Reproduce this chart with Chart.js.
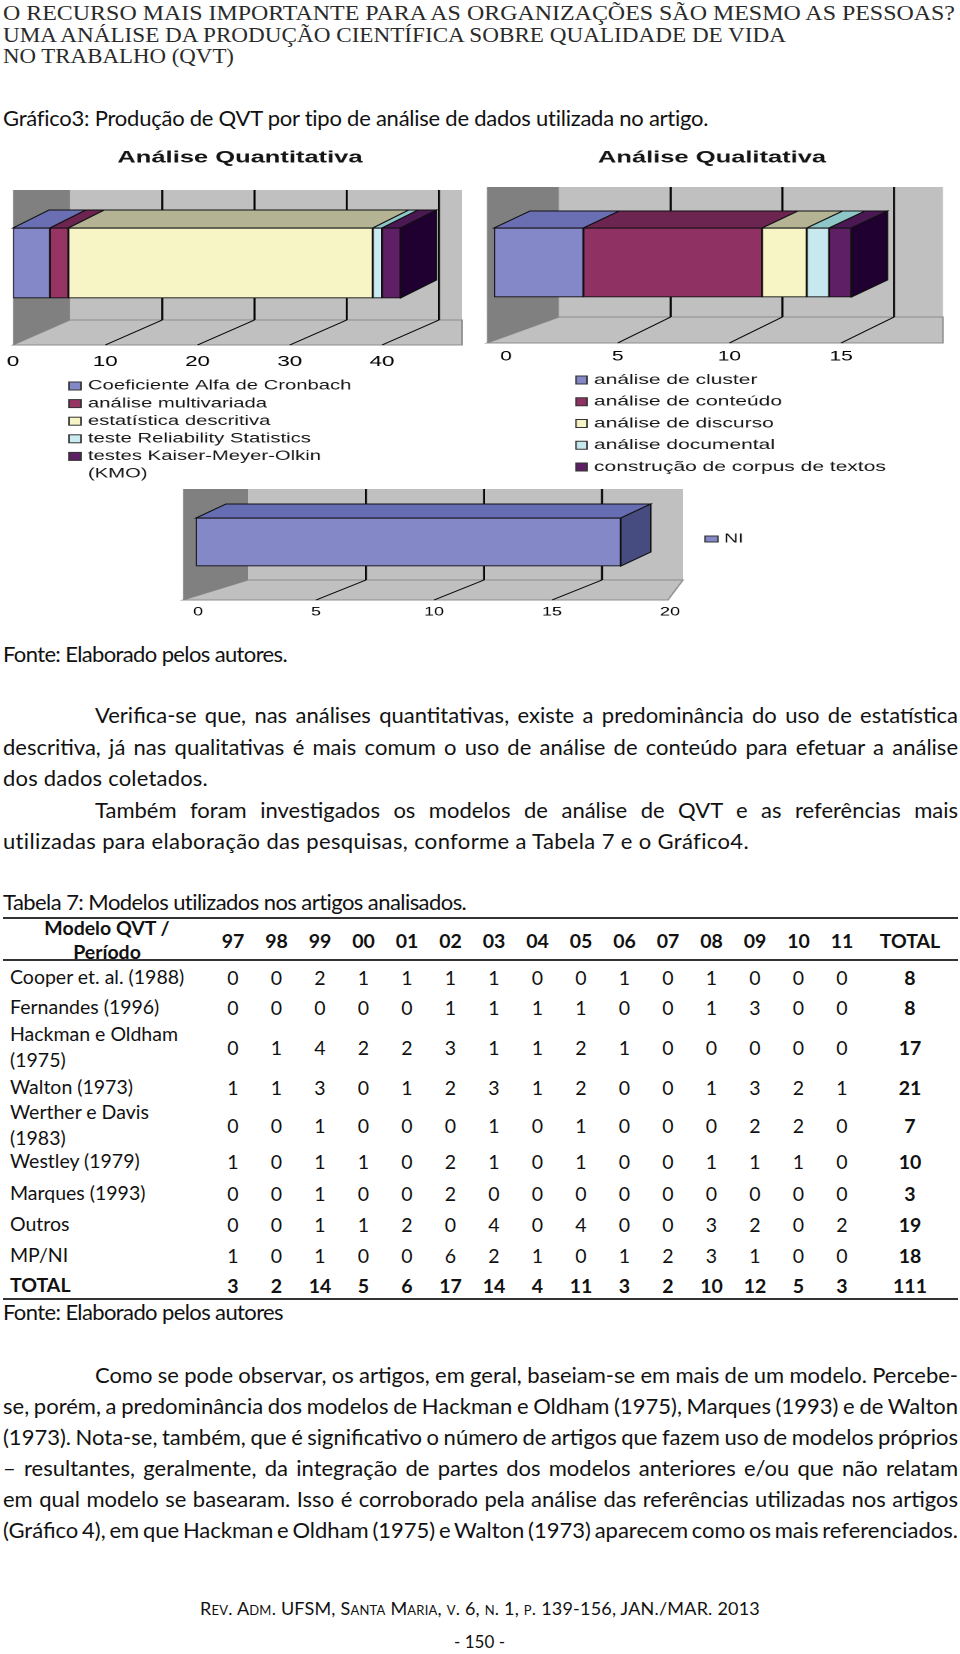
<!DOCTYPE html>
<html lang="pt">
<head>
<meta charset="utf-8">
<title>Gráfico 3 – Produção de QVT por tipo de análise</title>
<script src="https://cdn.jsdelivr.net/npm/chart.js@4.4.1/dist/chart.umd.min.js"></script>
<style>
  html, body { margin: 0; padding: 0; background: #fff; }
  #page { position: relative; width: 960px; height: 1654px; overflow: hidden; color: #111;
          font-family: Lato, "Open Sans", sans-serif; }
  .t { position: absolute; left: 3px; white-space: nowrap; font-size: 22px; line-height: 24px; transform-origin: 0 50%; }
  .hd { font-family: "Liberation Serif", serif; font-size: 22px; color: #2a2a2a; }
  .sc { font-variant: small-caps; font-size: 18px; }
  .box { position: absolute; transform-origin: 0 0; }
  .box > div { position: relative; }
  .rule { position: absolute; left: 3px; width: 955px; background: #333; }
  .row { position: absolute; left: 0; width: 960px; height: 52px; font-size: 19.5px; }
  .row div { position: absolute; top: 0; height: 52px; display: flex; align-items: center; justify-content: center; }
  .row .lab { left: 10px; width: 196px; justify-content: flex-start; line-height: 26px; }
  .b { font-weight: bold; }
</style>
</head>
<body>
<div id="page">
  <div class="t hd" style="top:1px" data-w="952" data-s="1">O RECURSO MAIS IMPORTANTE PARA AS ORGANIZAÇÕES SÃO MESMO AS PESSOAS?</div>
  <div class="t hd" style="top:23px" data-w="783" data-s="1">UMA ANÁLISE DA PRODUÇÃO CIENTÍFICA SOBRE QUALIDADE DE VIDA</div>
  <div class="t hd" style="top:44px" data-w="231" data-s="1">NO TRABALHO (QVT)</div>

  <div class="t" style="top:106px" data-w="706">Gráfico3: Produção de QVT por tipo de análise de dados utilizada no artigo.</div>

  <div class="box" id="b1" style="left:0;top:140px"><div><canvas id="quant"></canvas></div></div>
  <div class="box" id="b2" style="left:470px;top:140px"><div><canvas id="qual"></canvas></div></div>
  <div class="box" id="b3" style="left:170px;top:480px"><div><canvas id="ni"></canvas></div></div>

  <div class="t" style="top:642px" data-w="284">Fonte: Elaborado pelos autores.</div>

  <div class="t" style="left:95px;top:703px" data-w="863" data-j="1">Verifica-se que, nas análises quantitativas, existe a predominância do uso de estatística</div>
  <div class="t" style="top:735px" data-w="955" data-j="1">descritiva, já nas qualitativas é mais comum o uso de análise de conteúdo para efetuar a análise</div>
  <div class="t" style="top:766px" data-w="205">dos dados coletados.</div>
  <div class="t" style="left:95px;top:798px" data-w="863" data-j="1">Também foram investigados os modelos de análise de QVT e as referências mais</div>
  <div class="t" style="top:829px" data-w="746">utilizadas para elaboração das pesquisas, conforme a Tabela 7 e o Gráfico4.</div>

  <div class="t" style="top:890px" data-w="464">Tabela 7: Modelos utilizados nos artigos analisados.</div>
  <div class="rule" style="top:917px;height:2px"></div>
  <div class="rule" style="top:959px;height:2px"></div>
  <div class="rule" style="top:1298px;height:2px"></div>
  <div id="table"></div>
  <div class="t" style="top:1300px" data-w="280">Fonte: Elaborado pelos autores</div>

  <div class="t" style="left:95px;top:1363px" data-w="863" data-j="1">Como se pode observar, os artigos, em geral, baseiam-se em mais de um modelo. Percebe-</div>
  <div class="t" style="top:1394px" data-w="955" data-j="1">se, porém, a predominância dos modelos de Hackman e Oldham (1975), Marques (1993) e de Walton</div>
  <div class="t" style="top:1425px" data-w="955" data-j="1">(1973). Nota-se, também, que é significativo o número de artigos que fazem uso de modelos próprios</div>
  <div class="t" style="top:1456px" data-w="955" data-j="1">– resultantes, geralmente, da integração de partes dos modelos anteriores e/ou que não relatam</div>
  <div class="t" style="top:1487px" data-w="955" data-j="1">em qual modelo se basearam. Isso é corroborado pela análise das referências utilizadas nos artigos</div>
  <div class="t" style="top:1518px" data-w="955" data-j="1">(Gráfico 4), em que Hackman e Oldham (1975) e Walton (1973) aparecem como os mais referenciados.</div>

  <div class="t sc" style="left:200px;top:1596px" data-w="560">Rev. Adm. UFSM, Santa Maria, v. 6, n. 1, p. 139-156, JAN./MAR. 2013</div>
  <div class="t" style="left:454px;top:1630px;font-size:17px" data-w="51">- 150 -</div>
</div>

<script>
// ---- chart data ----
const quantLabels = ['Coeficiente Alfa de Cronbach', 'análise multivariada', 'estatística descritiva',
                     'teste Reliability Statistics', 'testes Kaiser-Meyer-Olkin (KMO)'];
const quantValues = [4, 2, 33, 1, 2];
const qualLabels = ['análise de cluster', 'análise de conteúdo', 'análise de discurso',
                    'análise documental', 'construção de corpus de textos'];
const qualValues = [4, 8, 2, 1, 1];
const niLabels = ['NI'];
const niValues = [18];
const quantTicks = [0, 10, 20, 30, 40];
const qualTicks = [0, 5, 10, 15];
const niTicks = [0, 5, 10, 15, 20];

// ---- table data ----
const years = ['97', '98', '99', '00', '01', '02', '03', '04', '05', '06', '07', '08', '09', '10', '11'];
const models = ['Cooper et. al. (1988)', 'Fernandes (1996)', 'Hackman e Oldham (1975)', 'Walton (1973)',
                'Werther e Davis (1983)', 'Westley (1979)', 'Marques (1993)', 'Outros', 'MP/NI'];
const cooper    = [0, 0, 2, 1, 1, 1, 1, 0, 0, 1, 0, 1, 0, 0, 0];
const fernandes = [0, 0, 0, 0, 0, 1, 1, 1, 1, 0, 0, 1, 3, 0, 0];
const hackman   = [0, 1, 4, 2, 2, 3, 1, 1, 2, 1, 0, 0, 0, 0, 0];
const walton    = [1, 1, 3, 0, 1, 2, 3, 1, 2, 0, 0, 1, 3, 2, 1];
const werther   = [0, 0, 1, 0, 0, 0, 1, 0, 1, 0, 0, 0, 2, 2, 0];
const westley   = [1, 0, 1, 1, 0, 2, 1, 0, 1, 0, 0, 1, 1, 1, 0];
const marques   = [0, 0, 1, 0, 0, 2, 0, 0, 0, 0, 0, 0, 0, 0, 0];
const outros    = [0, 0, 1, 1, 2, 0, 4, 0, 4, 0, 0, 3, 2, 0, 2];
const mpni      = [1, 0, 1, 0, 0, 6, 2, 1, 0, 1, 2, 3, 1, 0, 0];
const modelTotals = [8, 8, 17, 21, 7, 10, 3, 19, 18];
const yearTotals = [3, 2, 14, 5, 6, 17, 14, 4, 11, 3, 2, 10, 12, 5, 3];
const grandTotal = 111;

// ---- table layout ----
const rowsData = [cooper, fernandes, hackman, walton, werther, westley, marques, outros, mpni];
const rowY = [977, 1007, 1047, 1087, 1125, 1161, 1193, 1224, 1255];
const totalRowY = 1285, headY = 940;
const colX = years.map((y, i) => 233 + i * 43.5);
const totalX = 910;

function cell(row, x, w, html, cls) {
  const d = document.createElement('div');
  d.style.left = (x - w / 2) + 'px';
  d.style.width = w + 'px';
  if (cls) d.className = cls;
  d.innerHTML = html;
  row.appendChild(d);
}
function makeRow(cy) {
  const r = document.createElement('div');
  r.className = 'row';
  r.style.top = (cy - 26) + 'px';
  document.getElementById('table').appendChild(r);
  return r;
}
let hr = makeRow(headY);
cell(hr, 107, 200, '<span style="text-align:center;line-height:24px">Modelo QVT /<br>Período</span>', 'b');
years.forEach((y, i) => cell(hr, colX[i], 43, y, 'b'));
cell(hr, totalX, 94, 'TOTAL', 'b');
rowsData.forEach((vals, r) => {
  const row = makeRow(rowY[r]);
  const lab = document.createElement('div');
  lab.className = 'lab';
  lab.textContent = models[r];
  row.appendChild(lab);
  vals.forEach((v, i) => cell(row, colX[i], 43, v));
  cell(row, totalX, 94, modelTotals[r], 'b');
});
let tr = makeRow(totalRowY);
const tl = document.createElement('div');
tl.className = 'lab b'; tl.textContent = 'TOTAL'; tr.appendChild(tl);
yearTotals.forEach((v, i) => cell(tr, colX[i], 43, v, 'b'));
cell(tr, totalX, 94, grandTotal, 'b');

// ---- text fitting ----
function fitLines() {
  document.querySelectorAll('[data-w]').forEach(el => {
    el.style.letterSpacing = '0px';
    el.style.wordSpacing = '0px';
    el.style.transform = 'none';
    const target = +el.dataset.w;
    const w = el.getBoundingClientRect().width;
    const txt = el.textContent;
    if (el.dataset.s) {
      el.style.transform = 'scaleX(' + (target / w) + ')';
    } else if (el.dataset.j) {
      const n = (txt.match(/ /g) || []).length;
      if (n) el.style.wordSpacing = ((target - w) / n) + 'px';
    } else {
      el.style.letterSpacing = ((target - w) / txt.length) + 'px';
    }
  });
}
fitLines();
document.fonts.ready.then(fitLines);

// ---- charts ----
const S = 1.5; // the chart images are stretched horizontally
Chart.defaults.font.family = '"Liberation Sans", Arial, sans-serif';

function poly(ctx, pts, fill, stroke, lw) {
  ctx.beginPath();
  ctx.moveTo(pts[0][0], pts[0][1]);
  for (let i = 1; i < pts.length; i++) ctx.lineTo(pts[i][0], pts[i][1]);
  ctx.closePath();
  if (fill) { ctx.fillStyle = fill; ctx.fill(); }
  if (stroke) { ctx.strokeStyle = stroke; ctx.lineWidth = lw || 1; ctx.stroke(); }
}

function wrapText(ctx, text, maxW) {
  const words = text.split(' ');
  const lines = [];
  let cur = '';
  words.forEach(w => {
    const test = cur ? cur + ' ' + w : w;
    if (cur && ctx.measureText(test).width > maxW) { lines.push(cur); cur = w; }
    else cur = test;
  });
  lines.push(cur);
  return lines;
}

function depthPlugin(g, tops, sideColor) {
  return {
    id: 'depth3d',
    beforeDatasetsDraw(chart) {
      const ctx = chart.ctx, a = chart.chartArea, xs = chart.scales.x;
      const p0 = xs.getPixelForValue(0);
      const sh = g.shift / S, dx = g.dx / S;
      const fy = a.bottom, by = a.bottom - g.dy, ty = a.bottom - g.wallH;
      const b0 = p0 + sh + dx, bR = a.right + g.backRight / S, sL = p0 + g.sideLeft / S;
      ctx.save();
      ctx.fillStyle = '#c0c0c0';
      ctx.fillRect(b0, ty, bR - b0, by - ty);
      poly(ctx, [[sL, fy], [a.right, fy], [bR, by], [b0, by]], '#c0c0c0', '#8c8c8c');
      poly(ctx, [[sL, ty], [b0, ty], [b0, by], [sL, fy]], '#808080');
      xs.ticks.forEach(t => {
        if (t.value === 0) return;
        const fx = xs.getPixelForValue(t.value) + sh, bx = fx + dx;
        if (bx > bR - 1) return;
        ctx.strokeStyle = '#000';
        ctx.lineWidth = 1.3;
        ctx.beginPath(); ctx.moveTo(bx, ty); ctx.lineTo(bx, by); ctx.stroke();
        ctx.lineWidth = 0.9;
        ctx.beginPath(); ctx.moveTo(fx, fy); ctx.lineTo(bx, by); ctx.stroke();
      });
      ctx.restore();
    },
    afterDatasetsDraw(chart) {
      const ctx = chart.ctx, n = chart.data.datasets.length;
      const bdx = g.bdx / S, bdy = g.bdy;
      ctx.save();
      chart.data.datasets.forEach((ds, i) => {
        const el = chart.getDatasetMeta(i).data[0];
        const top = el.y - el.height / 2, bot = el.y + el.height / 2;
        const x0 = el.base, x1 = el.x;
        poly(ctx, [[x0, top], [x1, top], [x1 + bdx, top - bdy], [x0 + bdx, top - bdy]], tops[i], '#111');
        if (i === n - 1) {
          poly(ctx, [[x1, top], [x1 + bdx, top - bdy], [x1 + bdx, bot - bdy], [x1, bot]], sideColor, '#111');
        }
      });
      ctx.restore();
    },
    afterDraw(chart) {
      const ctx = chart.ctx;
      ctx.save();
      ctx.fillStyle = '#151515';
      ctx.textBaseline = 'middle';
      if (g.title) {
        ctx.font = 'bold ' + g.titleSize + 'px "Liberation Sans", Arial, sans-serif';
        ctx.textAlign = 'center';
        ctx.fillText(g.title, g.titleX / S, g.titleY);
      }
      ctx.font = g.legSize + 'px "Liberation Sans", Arial, sans-serif';
      ctx.textAlign = 'left';
      let y = g.legY;
      chart.data.datasets.forEach(ds => {
        const lines = wrapText(ctx, ds.label, g.legMax / S);
        ctx.fillStyle = ds.backgroundColor;
        ctx.fillRect(g.mx / S, y - g.mh / 2, g.mw / S, g.mh);
        ctx.strokeStyle = '#333';
        ctx.lineWidth = 1;
        ctx.strokeRect(g.mx / S, y - g.mh / 2, g.mw / S, g.mh);
        ctx.fillStyle = '#151515';
        lines.forEach(l => { ctx.fillText(l, g.tx / S, y); y += g.legStep; });
      });
      ctx.restore();
    }
  };
}

function bar3d(id, boxId, labels, values, fronts, tops, sideColor, tickValues, g) {
  const box = document.getElementById(boxId);
  box.style.transform = 'scaleX(' + S + ')';
  const inner = box.firstElementChild;
  inner.style.width = (g.W / S) + 'px';
  inner.style.height = g.H + 'px';
  new Chart(document.getElementById(id), {
    type: 'bar',
    data: {
      labels: [''],
      datasets: labels.map((l, i) => ({
        label: l,
        data: [values[i]],
        backgroundColor: fronts[i],
        borderColor: '#111',
        borderWidth: 1,
        borderSkipped: false,
        barThickness: g.thick
      }))
    },
    options: {
      indexAxis: 'y',
      responsive: true,
      maintainAspectRatio: false,
      animation: false,
      devicePixelRatio: 2,
      layout: {
        padding: {
          left: g.x0 / S,
          right: (g.W - g.xR) / S,
          top: 2 * g.barY - g.floorY,
          bottom: g.H - g.floorY - 30
        }
      },
      plugins: { legend: { display: false }, title: { display: false }, tooltip: { enabled: false } },
      scales: {
        x: {
          stacked: true,
          min: 0,
          max: g.max,
          grid: { display: false, drawTicks: false },
          border: { display: false },
          ticks: {
            padding: g.tickPad,
            labelOffset: g.shift / S,
            color: '#000',
            font: { size: g.tickSize },
            maxRotation: 0,
            autoSkip: false
          },
          afterBuildTicks: s => { s.ticks = tickValues.map(v => ({ value: v })); },
          afterFit: s => { s.height = 30; s.paddingLeft = 0; s.paddingRight = 0; }
        },
        y: { stacked: true, display: false }
      }
    },
    plugins: [depthPlugin(g, tops, sideColor)]
  });
}

bar3d('quant', 'b1', quantLabels, quantValues,
  ['#8488c8', '#963464', '#f7f4c6', '#c9ebf1', '#5e1f64'],
  ['#6a6fb3', '#6c2450', '#b4b494', '#8fc7c9', '#4a1852'], '#200030', quantTicks,
  { W: 471, H: 345, x0: 13, xR: 462, floorY: 205, barY: 123, thick: 70,
    wallH: 155, dy: 25, dx: 57, shift: 0, sideLeft: 0, backRight: 0, bdx: 36, bdy: 18,
    max: 48.67, tickSize: 15, tickPad: 8,
    title: 'Análise Quantitativa', titleX: 240, titleY: 18, titleSize: 17,
    mx: 69, mw: 12, mh: 8, tx: 88, legY: 246, legStep: 17.6, legSize: 13.5, legMax: 280 });

bar3d('qual', 'b2', qualLabels, qualValues,
  ['#8488c8', '#8f3263', '#f7f4c6', '#c6e8ee', '#5e1f64'],
  ['#6a6fb3', '#6c2450', '#b4b494', '#8fc7c9', '#4a1852'], '#200030', qualTicks,
  { W: 489, H: 345, x0: 24, xR: 473, floorY: 203, barY: 122.5, thick: 69,
    wallH: 156, dy: 26, dx: 53, shift: 12, sideLeft: -7, backRight: 0, bdx: 36, bdy: 17,
    max: 20.1, tickSize: 14, tickPad: 5,
    title: 'Análise Qualitativa', titleX: 242, titleY: 18, titleSize: 17,
    mx: 106, mw: 11, mh: 8, tx: 124, legY: 240, legStep: 21.75, legSize: 14, legMax: 400 });

bar3d('ni', 'b3', niLabels, niValues,
  ['#8488c6'], ['#676db2'], '#474c80', niTicks,
  { W: 600, H: 150, x0: 26, xR: 498, floorY: 120, barY: 62, thick: 48,
    wallH: 111, dy: 20, dx: 50, shift: 2, sideLeft: -13, backRight: 15, bdx: 30, bdy: 14,
    max: 20, tickSize: 12, tickPad: 5,
    mx: 535, mw: 13, mh: 6, tx: 554, legY: 59, legStep: 18, legSize: 13, legMax: 200 });
</script>
</body>
</html>
